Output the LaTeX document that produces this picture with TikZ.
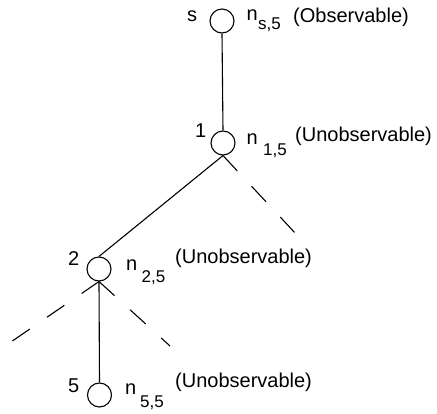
\documentclass[tikz,border=0pt]{standalone}
\usepackage{fontspec}
\setmainfont{Liberation Sans}
\begin{document}
\begin{tikzpicture}[x=1pt,y=-1pt,
  state/.style={draw,circle,minimum size=24pt,inner sep=0pt,line width=1.1pt},
  lbl/.style={inner sep=0pt,anchor=base west,font=\fontsize{20}{24}\selectfont},
  sub/.style={inner sep=0pt,anchor=base west,font=\fontsize{17}{20}\selectfont},
  edge/.style={line width=1.1pt},
  dedge/.style={line width=1.1pt,dash pattern=on 21pt off 21pt}]
\useasboundingbox (0,0) rectangle (437,414);
\node[state] (s) at (222,21) {};
\node[state] (n1) at (223,143) {};
\node[state] (n2) at (99,269) {};
\node[state] (n5) at (99.5,395) {};
\coordinate (e1) at (296,234);
\coordinate (e2l) at (8,344);
\coordinate (e2r) at (170,346);
% labels
\node[lbl] (ls) at (187,22) {s};
\node[lbl] (l1) at (195,138) {1};
\node[lbl] (l2) at (68,266) {2};
\node[lbl] (l5) at (68,392) {5};
\node[lbl] (ns) at (246.5,21) {n};
\node[sub] (ss) at (258,30) {s,5};
\node[lbl] (os) at (293,23) {(Observable)};
\node[lbl] (n1t) at (246.5,145) {n};
\node[sub] (s1) at (263,156) {1,5};
\node[lbl] (o1) at (295,142) {(Unobservable)};
\node[lbl] (n2t) at (126,271) {n};
\node[sub] (s2) at (141.5,283) {2,5};
\node[lbl] (o2) at (175,264) {(Unobservable)};
\node[lbl] (n5t) at (125,395) {n};
\node[sub] (s5) at (140,407) {5,5};
\node[lbl] (o5) at (175,388) {(Unobservable)};
% edges
\draw[edge] (s.south) -- (n1.north);
\draw[edge] (n1.south) -- (n2.north);
\draw[dedge] (n1.south) -- (e1);
\draw[edge] (n2.south) -- (n5.north);
\draw[dedge] (n2.south) -- (e2l);
\draw[dedge] (n2.south) -- (e2r);
\end{tikzpicture}
\end{document}
